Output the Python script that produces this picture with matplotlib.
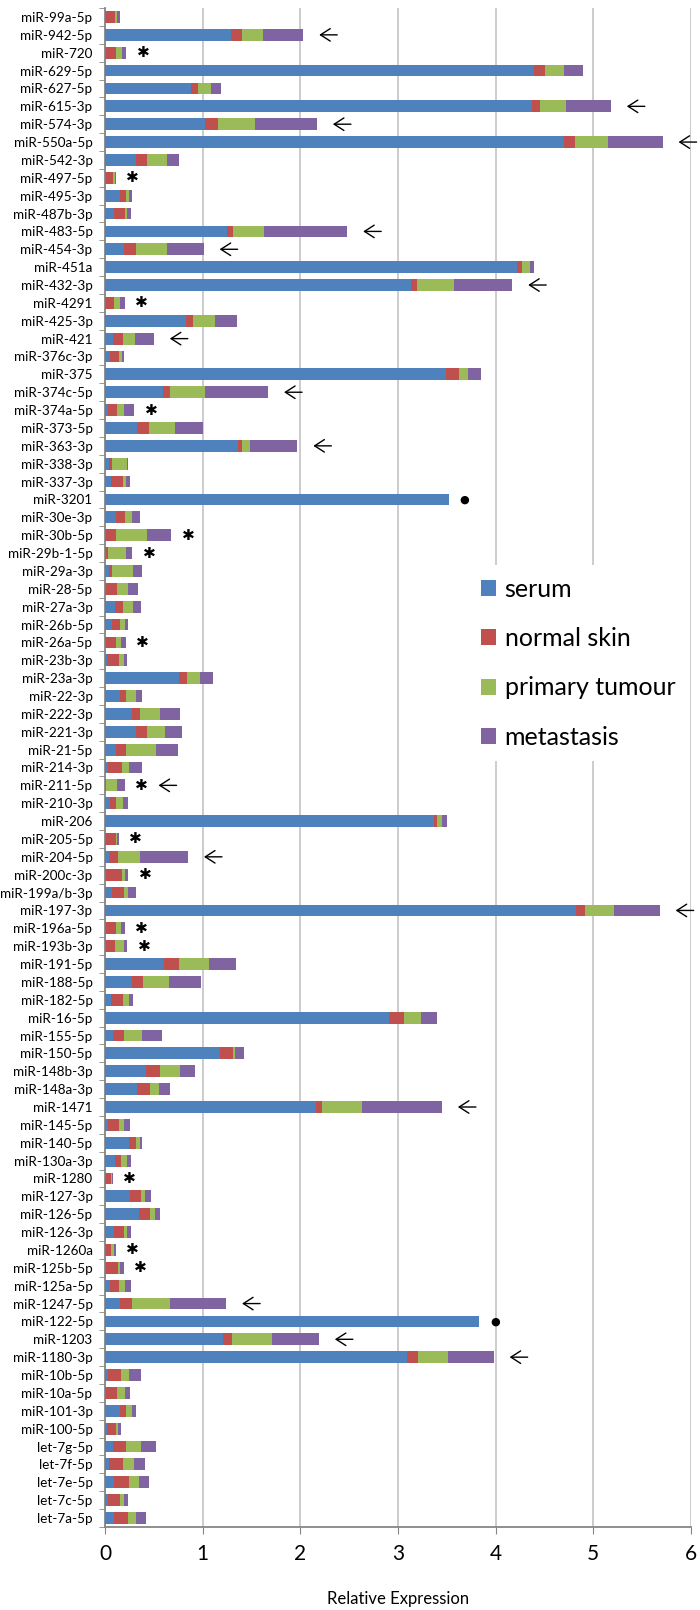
import numpy as np
import matplotlib.pyplot as plt
from matplotlib.transforms import offset_copy

plt.rcParams['font.family'] = ['Lato', 'DejaVu Sans']

# categories, top to bottom as in the chart
mirnas = ['miR-99a-5p', 'miR-942-5p', 'miR-720', 'miR-629-5p', 'miR-627-5p', 'miR-615-3p',
          'miR-574-3p', 'miR-550a-5p', 'miR-542-3p', 'miR-497-5p', 'miR-495-3p', 'miR-487b-3p',
          'miR-483-5p', 'miR-454-3p', 'miR-451a', 'miR-432-3p', 'miR-4291', 'miR-425-3p',
          'miR-421', 'miR-376c-3p', 'miR-375', 'miR-374c-5p', 'miR-374a-5p', 'miR-373-5p',
          'miR-363-3p', 'miR-338-3p', 'miR-337-3p', 'miR-3201', 'miR-30e-3p', 'miR-30b-5p',
          'miR-29b-1-5p', 'miR-29a-3p', 'miR-28-5p', 'miR-27a-3p', 'miR-26b-5p', 'miR-26a-5p',
          'miR-23b-3p', 'miR-23a-3p', 'miR-22-3p', 'miR-222-3p', 'miR-221-3p', 'miR-21-5p',
          'miR-214-3p', 'miR-211-5p', 'miR-210-3p', 'miR-206', 'miR-205-5p', 'miR-204-5p',
          'miR-200c-3p', 'miR-199a/b-3p', 'miR-197-3p', 'miR-196a-5p', 'miR-193b-3p',
          'miR-191-5p', 'miR-188-5p', 'miR-182-5p', 'miR-16-5p', 'miR-155-5p', 'miR-150-5p',
          'miR-148b-3p', 'miR-148a-3p', 'miR-1471', 'miR-145-5p', 'miR-140-5p', 'miR-130a-3p',
          'miR-1280', 'miR-127-3p', 'miR-126-5p', 'miR-126-3p', 'miR-1260a', 'miR-125b-5p',
          'miR-125a-5p', 'miR-1247-5p', 'miR-122-5p', 'miR-1203', 'miR-1180-3p', 'miR-10b-5p',
          'miR-10a-5p', 'miR-101-3p', 'miR-100-5p', 'let-7g-5p', 'let-7f-5p', 'let-7e-5p',
          'let-7c-5p', 'let-7a-5p']

serum = [0.01, 1.29, 0.01, 4.39, 0.88, 4.37, 1.02, 4.70, 0.32, 0.01, 0.15, 0.09,
         1.25, 0.19, 4.22, 3.13, 0.01, 0.83, 0.08, 0.05, 3.49, 0.59, 0.03, 0.33,
         1.36, 0.04, 0.06, 3.52, 0.11, 0.01, 0.01, 0.04, 0.01, 0.10, 0.07, 0.01,
         0.02, 0.76, 0.15, 0.28, 0.32, 0.11, 0.03, 0.01, 0.05, 3.37, 0.01, 0.04,
         0.01, 0.07, 4.82, 0.01, 0.01, 0.60, 0.28, 0.06, 2.91, 0.08, 1.18, 0.42,
         0.33, 2.16, 0.03, 0.25, 0.10, 0.01, 0.26, 0.35, 0.09, 0.01, 0.01, 0.05,
         0.15, 3.83, 1.21, 3.09, 0.03, 0.01, 0.15, 0.02, 0.08, 0.04, 0.09, 0.03, 0.09]
normal_skin = [0.09, 0.11, 0.10, 0.12, 0.07, 0.08, 0.14, 0.11, 0.11, 0.07, 0.06, 0.11,
               0.06, 0.13, 0.05, 0.06, 0.08, 0.07, 0.10, 0.09, 0.14, 0.08, 0.09, 0.12,
               0.04, 0.03, 0.12, 0.0, 0.09, 0.10, 0.02, 0.03, 0.11, 0.08, 0.08, 0.10,
               0.12, 0.08, 0.07, 0.08, 0.11, 0.11, 0.14, 0.0, 0.06, 0.03, 0.10, 0.09,
               0.16, 0.12, 0.10, 0.10, 0.09, 0.16, 0.11, 0.12, 0.15, 0.11, 0.13, 0.14,
               0.13, 0.06, 0.11, 0.07, 0.06, 0.05, 0.11, 0.11, 0.10, 0.05, 0.12, 0.09,
               0.13, 0.0, 0.09, 0.12, 0.13, 0.11, 0.06, 0.09, 0.13, 0.14, 0.16, 0.12, 0.15]
primary_tumour = [0.02, 0.22, 0.06, 0.19, 0.14, 0.27, 0.38, 0.34, 0.21, 0.02, 0.04, 0.03,
                  0.32, 0.31, 0.08, 0.38, 0.06, 0.23, 0.13, 0.03, 0.09, 0.35, 0.07, 0.27,
                  0.08, 0.16, 0.04, 0.0, 0.08, 0.32, 0.18, 0.22, 0.12, 0.11, 0.05, 0.05,
                  0.05, 0.13, 0.10, 0.20, 0.18, 0.30, 0.08, 0.11, 0.07, 0.05, 0.01, 0.23,
                  0.03, 0.05, 0.29, 0.05, 0.09, 0.30, 0.27, 0.07, 0.18, 0.19, 0.02, 0.21,
                  0.09, 0.41, 0.05, 0.04, 0.07, 0.01, 0.04, 0.05, 0.04, 0.03, 0.02, 0.06,
                  0.39, 0.0, 0.41, 0.30, 0.09, 0.08, 0.07, 0.02, 0.16, 0.12, 0.10, 0.04, 0.08]
metastasis = [0.03, 0.41, 0.05, 0.19, 0.10, 0.46, 0.63, 0.56, 0.12, 0.01, 0.03, 0.04,
              0.85, 0.38, 0.04, 0.60, 0.05, 0.22, 0.19, 0.02, 0.13, 0.65, 0.11, 0.28,
              0.49, 0.01, 0.04, 0.0, 0.08, 0.25, 0.07, 0.09, 0.10, 0.08, 0.04, 0.05,
              0.04, 0.14, 0.06, 0.21, 0.18, 0.23, 0.13, 0.08, 0.06, 0.05, 0.02, 0.49,
              0.04, 0.08, 0.47, 0.04, 0.04, 0.28, 0.32, 0.04, 0.16, 0.20, 0.09, 0.15,
              0.12, 0.82, 0.07, 0.02, 0.04, 0.01, 0.06, 0.05, 0.04, 0.02, 0.04, 0.07,
              0.57, 0.0, 0.48, 0.47, 0.12, 0.06, 0.04, 0.03, 0.15, 0.11, 0.10, 0.05, 0.10]

series_names = ['serum', 'normal skin', 'primary tumour', 'metastasis']
colors = ['#4F81BD', '#C0504D', '#9BBB59', '#8064A2']

# markers drawn to the right of some bars
star_marks = ['miR-720', 'miR-497-5p', 'miR-4291', 'miR-374a-5p', 'miR-30b-5p', 'miR-29b-1-5p',
              'miR-26a-5p', 'miR-211-5p', 'miR-205-5p', 'miR-200c-3p', 'miR-196a-5p',
              'miR-193b-3p', 'miR-1280', 'miR-1260a', 'miR-125b-5p']
arrow_marks = ['miR-942-5p', 'miR-615-3p', 'miR-574-3p', 'miR-550a-5p', 'miR-483-5p',
               'miR-454-3p', 'miR-432-3p', 'miR-421', 'miR-374c-5p', 'miR-363-3p',
               'miR-211-5p', 'miR-204-5p', 'miR-197-3p', 'miR-1471', 'miR-1247-5p',
               'miR-1203', 'miR-1180-3p']
dot_marks = ['miR-3201', 'miR-122-5p']

fig = plt.figure(figsize=(7, 16.1), dpi=100)
ax = fig.add_axes([0.15, 0.0516, 0.837, 0.9434])

y = np.arange(len(mirnas))
data = np.array([serum, normal_skin, primary_tumour, metastasis])
left = np.zeros(len(mirnas))
for vals, name, c in zip(data, series_names, colors):
    ax.barh(y, vals, left=left, height=0.66, color=c, label=name, zorder=3)
    left += vals

for i, name in enumerate(mirnas):
    if name in star_marks:
        ax.annotate('✱', (left[i], y[i]), xytext=(17, 0), textcoords='offset pixels',
                    ha='center', va='center', fontsize=11, family='DejaVu Sans', zorder=4)
    if name in arrow_marks:
        start = 34 if name in star_marks else 16
        tip = offset_copy(ax.transData, fig=fig, x=start, y=0, units='dots')
        ax.annotate('', xy=(left[i], y[i]), xycoords=tip, xytext=(18, 0),
                    textcoords='offset pixels', zorder=4,
                    arrowprops=dict(arrowstyle='->,head_length=0.7,head_width=0.45',
                                    lw=1.0, color='black', shrinkA=0, shrinkB=0))
    if name in dot_marks:
        ax.annotate('●', (left[i], y[i]), xytext=(16, 0), textcoords='offset pixels',
                    ha='center', va='center', fontsize=8, family='DejaVu Sans', zorder=4)

ax.set_xlim(0, 6)
ax.set_ylim(len(mirnas) - 0.5, -0.5)
ax.set_yticks(y)
ax.set_yticklabels(mirnas, fontsize=9.7)
ax.set_yticks(np.arange(len(mirnas) + 1) - 0.5, minor=True)
ax.tick_params(axis='y', which='major', length=0, pad=9)
ax.tick_params(axis='y', which='minor', length=4, color='#868686')
ax.set_xticks(range(7))
ax.tick_params(axis='x', length=5, color='#868686', labelsize=15, pad=7)
ax.grid(axis='x', color='#C8C8C8', linewidth=1.3, zorder=0)
for s in ['top', 'right']:
    ax.spines[s].set_visible(False)
for s in ['left', 'bottom']:
    ax.spines[s].set_color('#868686')
    ax.spines[s].set_linewidth(1.3)
ax.set_xlabel('Relative Expression', fontsize=12, labelpad=20)

leg = ax.legend(loc='upper left', bbox_to_anchor=(0.62, 0.633), fontsize=18, frameon=True,
                handlelength=0.6, handleheight=0.6, handletextpad=0.35, labelspacing=1.05,
                borderaxespad=0, borderpad=0.5, fancybox=False)
leg.get_frame().set_edgecolor('none')
leg.get_frame().set_facecolor('white')
leg.get_frame().set_alpha(1)

plt.savefig('out.png', dpi=100)
